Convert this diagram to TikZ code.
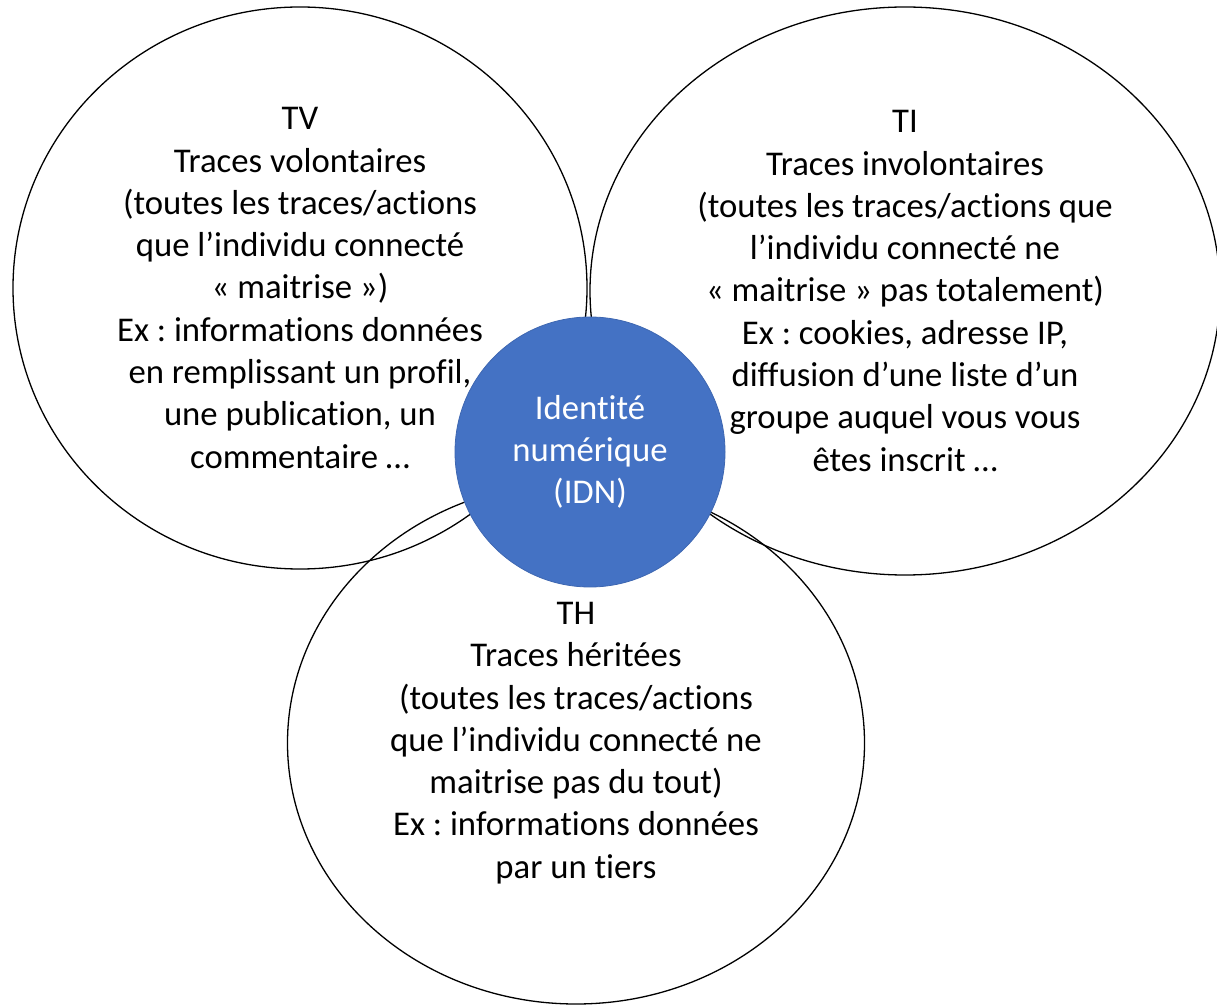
\documentclass[tikz,border=0pt]{standalone}
\usepackage{fontspec}
\setmainfont{Carlito}[Ligatures=NoCommon]
\usetikzlibrary{shapes.geometric}
\definecolor{idnblue}{HTML}{4472C4}
\definecolor{idnedge}{HTML}{3E67B1}
\frenchspacing
\begin{document}
\begin{tikzpicture}[x=1pt, y=1pt,
    trace/.style={ellipse, draw, line width=1.3pt, inner sep=0pt, align=center,
        font=\fontsize{34.7}{42.3}\selectfont},
    idn/.style={circle, draw=idnedge, line width=0.8pt, fill=idnblue, text=white,
        minimum size=270pt, inner sep=0pt, align=center,
        font=\fontsize{34.7}{42.3}\selectfont}]
    \useasboundingbox (0,0) rectangle (1217,1005);

    % Three kinds of traces
    \node[trace, minimum width=574pt, minimum height=562pt] (TV) at (300,717)
        {TV\\Traces volontaires\\(toutes les traces/actions\\que l’individu connecté\\« maitrise »)\\Ex : informations données\\en remplissant un profil,\\une publication, un\\commentaire …};
    \node[trace, minimum width=630pt, minimum height=568pt] (TI) at (905,714)
        {TI\\Traces involontaires\\(toutes les traces/actions que\\l’individu connecté ne\\« maitrise » pas totalement)\\Ex : cookies, adresse IP,\\diffusion d’une liste d’un\\groupe auquel vous vous\\êtes inscrit …};
    \node[trace, minimum width=577pt, minimum height=522pt] (TH) at (576,262)
        {TH\\Traces héritées\\(toutes les traces/actions\\que l’individu connecté ne\\maitrise pas du tout)\\Ex : informations données\\par un tiers};

    % Digital identity in the middle
    \node[idn] (IDN) at (590,553) {Identité\\numérique\\(IDN)};
\end{tikzpicture}
\end{document}
